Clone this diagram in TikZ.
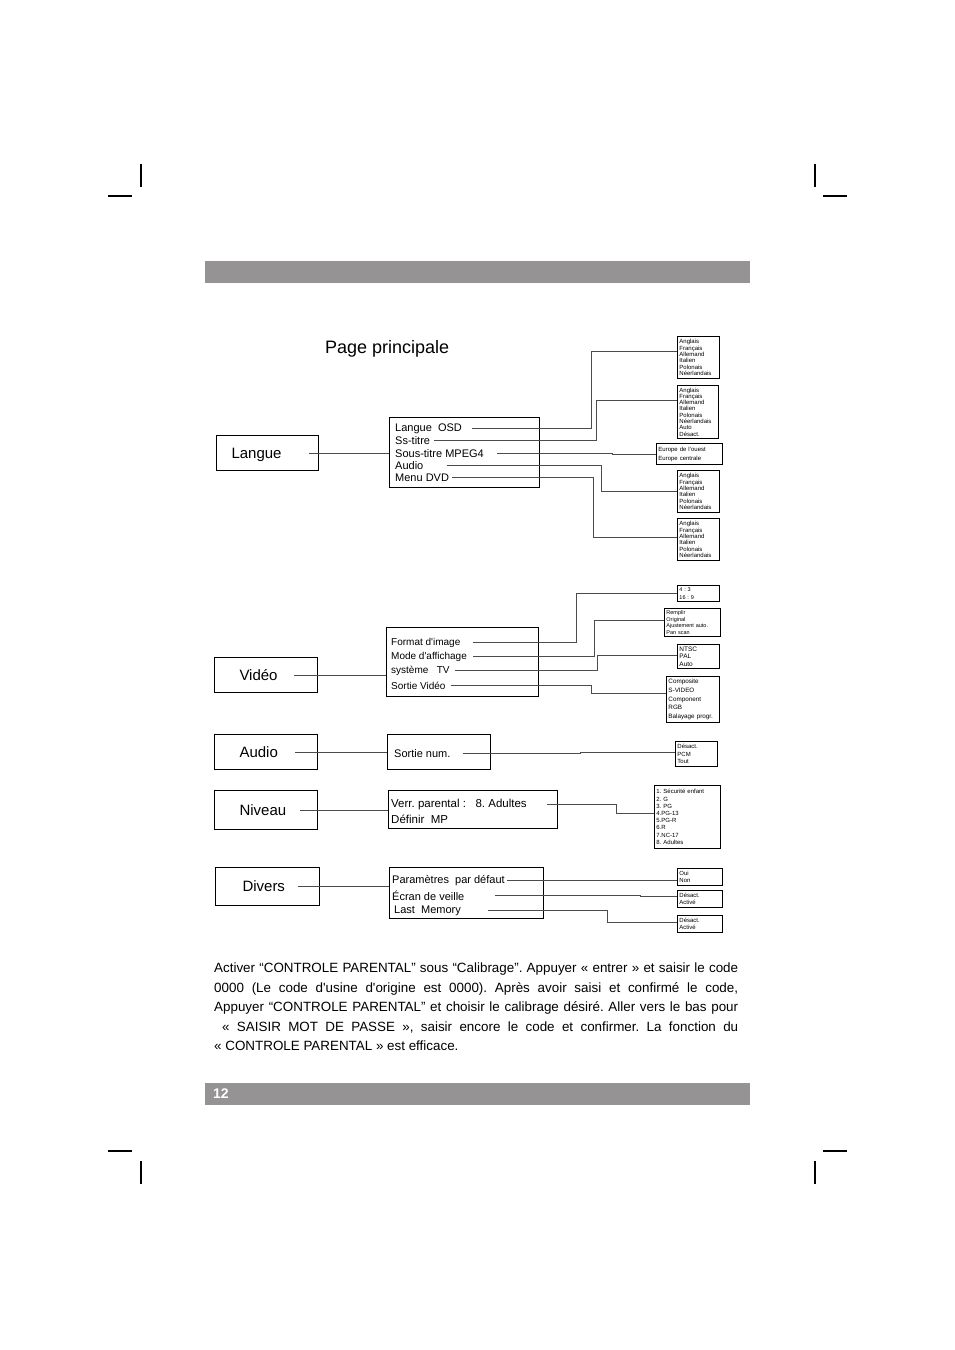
\documentclass[tikz,border=0pt]{standalone}
\usepackage{fontspec}
\setmainfont{Liberation Sans}[Ligatures=TeXOff]
\definecolor{barc}{RGB}{149,147,147}
\frenchspacing
\begin{document}
\frenchspacing
\begin{tikzpicture}[x=1pt,y=-1pt,
 crop/.style={line width=1.4pt},
 mainbox/.style={draw, line width=1pt, anchor=north west, align=left, inner ysep=0pt, text height=11pt, text depth=1pt, font=\fontsize{15}{17}\selectfont},
 menubox/.style={draw, line width=1pt, anchor=north west, inner sep=0pt},
 item/.style={anchor=west, inner sep=0pt, yshift=-1.5pt},
 sbox/.style={draw, line width=0.9pt, anchor=north west, inner xsep=2pt, inner ysep=0pt, align=left},
 conn/.style={draw=black!70, line width=0.9pt},
]
\useasboundingbox (0,0) rectangle (954,1350);

% crop marks
\draw[crop] (141,164) -- (141,187);
\draw[crop] (108,196) -- (132,196);
\draw[crop] (815,164) -- (815,187);
\draw[crop] (823,196) -- (847,196);
\draw[crop] (108,1151) -- (132,1151);
\draw[crop] (141,1161) -- (141,1184);
\draw[crop] (823,1151) -- (847,1151);
\draw[crop] (815,1161) -- (815,1184);

% bars
\fill[barc] (205,261) rectangle (750,283);
\fill[barc] (205,1083) rectangle (750,1105);
\node[anchor=west, inner sep=0pt, text=white, font=\bfseries\fontsize{14}{16}\selectfont] (pnum) at (213,1094) {12};

% title
\node[anchor=west, inner sep=0pt, font=\fontsize{18}{20}\selectfont] (title) at (325,349) {Page principale};

% ---------------- Langue
\node[mainbox, text width=72pt, inner xsep=15pt, minimum height=35pt] (langue) at (216,435) {Langue};
\node[menubox, minimum width=150pt, minimum height=70pt] (lmenu) at (389,417) {};
\begin{scope}[font=\fontsize{11}{13}\selectfont]
\node[item] (l1) at (395,427) {Langue~~OSD};
\node[item] (l2) at (395,439) {Ss-titre};
\node[item] (l3) at (395,452) {Sous-titre MPEG4};
\node[item] (l4) at (395,464) {Audio};
\node[item] (l5) at (395,476) {Menu DVD};
\end{scope}
\draw[conn] ([xshift=-10pt]langue.east) -- (langue.east -| lmenu.west);

\begin{scope}[font=\fontsize{6}{6.3}\selectfont]
\node[sbox, text width=38pt, minimum height=42pt] (b1) at (677,336) {Anglais\\Français\\Allemand\\Italien\\Polonais\\Néerlandais};
\node[sbox, text width=37pt, minimum height=53pt] (b2) at (677,385) {Anglais\\Français\\Allemand\\Italien\\Polonais\\Néerlandais\\Auto\\Désact.};
\node[sbox, text width=38pt, minimum height=42pt] (b4) at (677,470) {Anglais\\Français\\Allemand\\Italien\\Polonais\\Néerlandais};
\node[sbox, text width=38pt, minimum height=42pt] (b5) at (677,518) {Anglais\\Français\\Allemand\\Italien\\Polonais\\Néerlandais};
\end{scope}
\node[sbox, text width=62pt, minimum height=21pt, font=\fontsize{6}{9}\selectfont] (b3) at (656,443) {Europe de l’ouest\\Europe centrale};

\coordinate (k1) at (591,351);
\coordinate (k2) at (596,400);
\coordinate (k3) at (612,454);
\coordinate (k4) at (601,491);
\coordinate (k5) at (593,537);
\draw[conn] ([xshift=10pt]l1.east) -| (k1) -- (k1 -| b1.west);
\draw[conn] ([xshift=4pt]l2.east) -| (k2) -- (k2 -| b2.west);
\draw[conn] ([xshift=13pt]l3.east) -| (k3) -- (k3 -| b3.west);
\draw[conn] ([xshift=23pt]l4.east) -| (k4) -- (k4 -| b4.west);
\draw[conn] ([xshift=3pt]l5.east) -| (k5) -- (k5 -| b5.west);

% ---------------- Vidéo
\node[mainbox, text width=53pt, inner xsep=25pt, minimum height=35pt] (video) at (214,657) {Vidéo};
\node[menubox, minimum width=152pt, minimum height=69pt] (vmenu) at (386,627) {};
\begin{scope}[font=\fontsize{10}{12}\selectfont]
\node[item] (v1) at (391,641) {Format d'image};
\node[item] (v2) at (391,655) {Mode d'affichage};
\node[item] (v3) at (391,669) {système~~~TV};
\node[item] (v4) at (391,684) {Sortie Vidéo};
\end{scope}
\draw[conn] ([xshift=-24pt]video.east) -- (video.east -| vmenu.west);

\node[sbox, text width=38pt, minimum height=16pt, font=\fontsize{5.5}{7.5}\selectfont] (w1) at (677,585) {4 : 3\\16 : 9};
\node[sbox, text width=52pt, minimum height=28pt, font=\fontsize{5.5}{6.7}\selectfont] (w2) at (664,608) {Remplir\\Original\\Ajustement auto.\\Pan scan};
\node[sbox, text width=38pt, minimum height=24pt, font=\fontsize{6.5}{7.6}\selectfont] (w3) at (677,644) {NTSC\\PAL\\Auto};
\node[sbox, text width=49pt, minimum height=46pt, font=\fontsize{6.3}{8.8}\selectfont] (w4) at (666,676) {Composite\\S-VIDEO\\Component\\RGB\\Balayage progr.};

\coordinate (kv1) at (576,593);
\coordinate (kv2) at (594,620);
\coordinate (kv3) at (597,655);
\coordinate (kv4) at (591,693);
\draw[conn] ([xshift=12pt]v1.east) -| (kv1) -- (kv1 -| w1.west);
\draw[conn] ([xshift=6pt]v2.east) -| (kv2) -- (kv2 -| w2.west);
\draw[conn] ([xshift=5pt]v3.east) -| (kv3) -- (kv3 -| w3.west);
\draw[conn] ([xshift=5pt]v4.east) -| (kv4) -- (kv4 -| w4.west);

% ---------------- Audio
\node[mainbox, text width=53pt, inner xsep=25pt, minimum height=35pt] (audio) at (214,734) {Audio};
\node[menubox, minimum width=103pt, minimum height=35pt] (amenu) at (387,734) {};
\node[item, font=\fontsize{11}{13}\selectfont] (a1) at (394,752) {Sortie num.};
\draw[conn] ([xshift=-23pt]audio.east) -- (audio.east -| amenu.west);
\node[sbox, text width=38pt, minimum height=25pt, font=\fontsize{6}{7.5}\selectfont] (x1) at (675,741) {Désact.\\PCM\\Tout};
\coordinate (ka) at (580,752);
\draw[conn] ([xshift=12pt]a1.east) -| (ka) -- (ka -| x1.west);

% ---------------- Niveau
\node[mainbox, text width=53pt, inner xsep=25pt, minimum height=39pt] (niveau) at (214,790) {Niveau};
\node[menubox, minimum width=169pt, minimum height=38pt] (nmenu) at (388,790) {};
\begin{scope}[font=\fontsize{11.5}{13}\selectfont]
\node[item] (n1) at (391,803) {Verr. parental :~~~8. Adultes};
\node[item] (n2) at (391,818) {Définir~~MP};
\end{scope}
\draw[conn] ([xshift=-18pt]niveau.east) -- (niveau.east -| nmenu.west);
\node[sbox, text width=62pt, minimum height=63pt, font=\fontsize{6}{7.2}\selectfont] (y1) at (654,785) {1. Sécurité enfant\\2. G\\3. PG\\4.PG-13\\5.PG-R\\6.R\\7.NC-17\\8. Adultes};
\coordinate (kn) at (616,813);
\draw[conn] ([xshift=20pt]n1.east) -| (kn) -- (kn -| y1.west);

% ---------------- Divers
\node[mainbox, text width=50pt, inner xsep=27pt, minimum height=38pt] (divers) at (215,867) {Divers};
\node[menubox, minimum width=154pt, minimum height=51pt] (dmenu) at (389,867) {};
\begin{scope}[font=\fontsize{11}{13}\selectfont]
\node[item] (d1) at (392,879) {Paramètres~~par défaut};
\node[item] (d2) at (392,894) {Écran de veille};
\node[item] (d3) at (394,909) {Last~~Memory};
\end{scope}
\draw[conn] ([xshift=-22pt]divers.east) -- (divers.east -| dmenu.west);
\begin{scope}[font=\fontsize{6}{7.5}\selectfont]
\node[sbox, text width=41pt, minimum height=17pt] (z1) at (677,868) {Oui\\Non};
\node[sbox, text width=41pt, minimum height=17pt] (z2) at (677,890) {Désact.\\Activé};
\node[sbox, text width=41pt, minimum height=17pt] (z3) at (677,915) {Désact.\\Activé};
\end{scope}
\coordinate (kd1) at (640,880.5);
\coordinate (kd2) at (640,896);
\coordinate (kd3) at (607,922);
\draw[conn] ([xshift=2pt]d1.east) -| (kd1) -- (kd1 -| z1.west);
\draw[conn] ([xshift=30pt]d2.east) -| (kd2) -- (kd2 -| z2.west);
\draw[conn] ([xshift=27pt]d3.east) -| (kd3) -- (kd3 -| z3.west);

% ---------------- paragraph
\node[anchor=north west, inner sep=0pt, align=left, font=\fontsize{13.4}{19.5}\selectfont] (para) at (214,963) {%
\makebox[524pt][s]{Activer “CONTROLE PARENTAL” sous “Calibrage”. Appuyer « entrer » et saisir le code}\\
\makebox[524pt][s]{0000 (Le code d'usine d'origine est 0000). Après avoir saisi et confirmé le code,}\\
\makebox[524pt][s]{Appuyer “CONTROLE PARENTAL” et choisir le calibrage désiré. Aller vers le bas pour}\\
\makebox[524pt][s]{\hspace*{8pt}« SAISIR MOT DE PASSE », saisir encore le code et confirmer. La fonction du}\\
« CONTROLE PARENTAL » est efficace.};

\end{tikzpicture}
\end{document}
